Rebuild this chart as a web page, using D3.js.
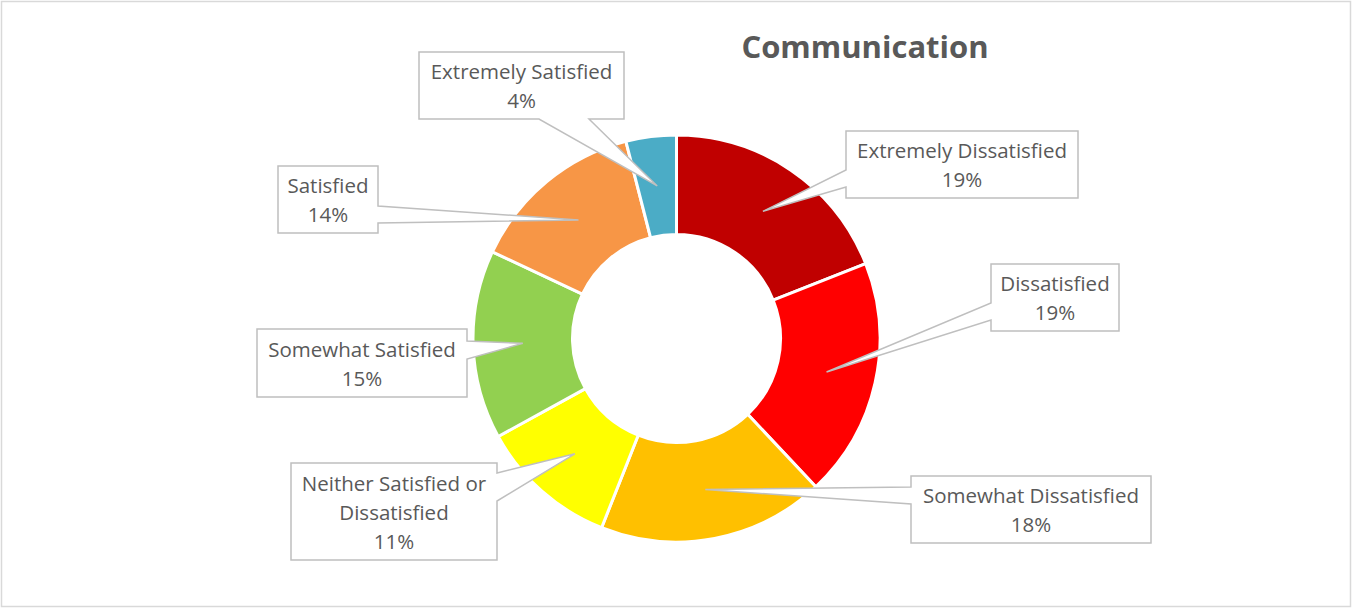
<!DOCTYPE html>
<html>
<head>
<meta charset="utf-8">
<script src="https://cdn.jsdelivr.net/npm/d3@7"></script>
<style>
  html, body { margin: 0; padding: 0; background: #fff; }
  svg { display: block; }
</style>
</head>
<body>
<svg id="chart" width="1352" height="608"></svg>
<script>
// Survey answers for the "Communication" question, in clockwise order from 12 o'clock
const categories = [
  "Extremely Dissatisfied",
  "Dissatisfied",
  "Somewhat Dissatisfied",
  "Neither Satisfied or Dissatisfied",
  "Somewhat Satisfied",
  "Satisfied",
  "Extremely Satisfied"
];
const shares = [19, 19, 18, 11, 15, 14, 4];
const sliceColors = ["#C00000", "#FF0000", "#FFC000", "#FFFF00", "#92D050", "#F79646", "#4BACC6"];
// How each category name is broken over lines inside its callout
const labelLines = [
  ["Extremely Dissatisfied"],
  ["Dissatisfied"],
  ["Somewhat Dissatisfied"],
  ["Neither Satisfied or", "Dissatisfied"],
  ["Somewhat Satisfied"],
  ["Satisfied"],
  ["Extremely Satisfied"]
];

// Callout boxes: box rect, the side the pointer leaves from, and the pointer's base span on that side
const calloutLayout = [
  { x: 846, y: 131, w: 232, h: 67, side: "left",   a: 170, b: 187 },
  { x: 991, y: 264, w: 128, h: 67, side: "left",   a: 303, b: 320 },
  { x: 911, y: 476, w: 240, h: 67, side: "left",   a: 487, b: 504 },
  { x: 291, y: 463, w: 206, h: 97, side: "right",  a: 473, b: 501 },
  { x: 257, y: 329, w: 210, h: 68, side: "right",  a: 341, b: 359 },
  { x: 278, y: 166, w: 100, h: 67, side: "right",  a: 206, b: 223 },
  { x: 419, y: 52,  w: 205, h: 67, side: "bottom", a: 539, b: 589 }
];

const W = 1352, H = 608;
const cx = 676.5, cy = 338.5;
const outerR = 203.5, innerR = 104;
const FONT = "'Open Sans', 'Noto Sans', sans-serif";

const svg = d3.select("#chart");

// chart area frame
svg.append("rect")
  .attr("x", 1.5).attr("y", 1.5)
  .attr("width", W - 3).attr("height", H - 3)
  .attr("fill", "#fff")
  .attr("stroke", "#d9d9d9")
  .attr("stroke-width", 1.5);

// title
svg.append("text")
  .attr("x", 865).attr("y", 46)
  .attr("text-anchor", "middle")
  .attr("dominant-baseline", "central")
  .attr("font-family", FONT)
  .attr("font-weight", "bold")
  .attr("font-size", 31)
  .attr("fill", "#595959")
  .text("Communication");

const data = categories.map((c, i) => ({ category: c, value: shares[i], color: sliceColors[i], lines: labelLines[i], box: calloutLayout[i] }));

const pie = d3.pie().value(d => d.value).sort(null);
const arc = d3.arc().innerRadius(innerR).outerRadius(outerR);
const arcs = pie(data);

const g = svg.append("g").attr("transform", `translate(${cx},${cy})`);
g.selectAll("path.slice")
  .data(arcs)
  .join("path")
  .attr("class", "slice")
  .attr("d", arc)
  .attr("fill", d => d.data.color)
  .attr("stroke", "#fff")
  .attr("stroke-width", 3)
  .attr("stroke-linejoin", "round");

const pct = d3.format(".0%");
const total = d3.sum(shares);

// callouts: rectangle with a pointer that runs to the slice centroid
function calloutPoints(b, tip) {
  const { x, y, w, h } = b;
  if (b.side === "left") {
    return [[x, y], [x + w, y], [x + w, y + h], [x, y + h], [x, b.b], tip, [x, b.a]];
  } else if (b.side === "right") {
    return [[x, y], [x + w, y], [x + w, b.a], tip, [x + w, b.b], [x + w, y + h], [x, y + h]];
  } else {
    return [[x, y], [x + w, y], [x + w, y + h], [b.b, y + h], tip, [b.a, y + h], [x, y + h]];
  }
}

const labels = svg.append("g");
arcs.forEach(a => {
  const c = arc.centroid(a);
  const tip = [cx + c[0], cy + c[1]];
  const b = a.data.box;
  labels.append("polygon")
    .attr("points", calloutPoints(b, tip).map(p => p.join(",")).join(" "))
    .attr("fill", "#fff")
    .attr("stroke", "#bfbfbf")
    .attr("stroke-width", 1.5)
    .attr("stroke-linejoin", "miter");

  const lines = a.data.lines.concat([pct(a.data.value / total)]);
  const lh = 29;
  const t = labels.append("text")
    .attr("text-anchor", "middle")
    .attr("font-family", FONT)
    .attr("font-size", 20.5)
    .attr("fill", "#595959");
  lines.forEach((ln, i) => {
    t.append("tspan")
      .attr("x", b.x + b.w / 2)
      .attr("y", b.y + b.h / 2 + (i - (lines.length - 1) / 2) * lh)
      .attr("dominant-baseline", "central")
      .text(ln);
  });
});
</script>
</body>
</html>
